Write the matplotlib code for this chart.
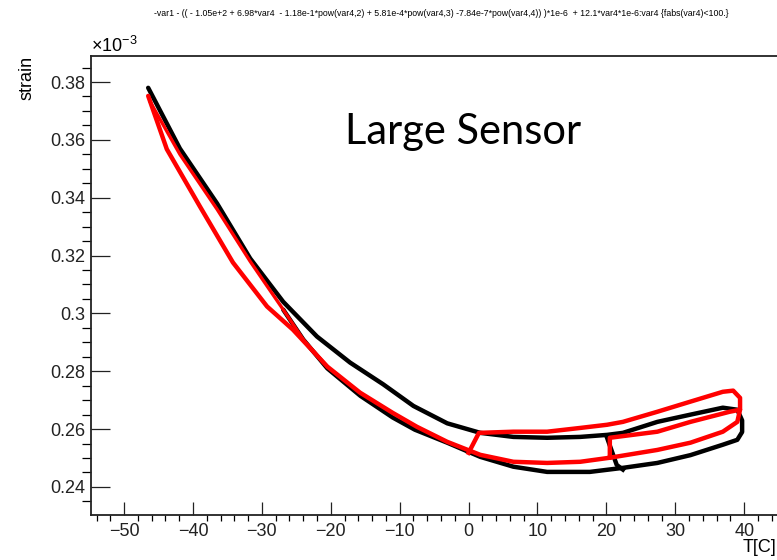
import matplotlib
matplotlib.use("Agg")
import matplotlib.pyplot as plt
from matplotlib.ticker import MultipleLocator, FuncFormatter

# strain values are in units of 1e-3 (as shown on the axis)
# black: one long hysteresis loop (upper branch out to 40C and back on the lower branch)
black_T = [-46.5, -41.9, -36.5, -31.7, -26.9, -22.0, -17.2, -12.4, -8.0, -3.1, 1.7, 6.5,
           11.4, 16.2, 20.1, 22.4, 27.4, 32.2, 36.9, 39.0, 39.7, 39.7, 39.0, 36.9, 32.2,
           27.4, 22.4, 17.6, 11.4, 6.5, 1.7, -3.1, -7.8, -11.0, -15.7, -20.5, -24.0, -26.9]
black_strain = [0.378, 0.357, 0.338, 0.319, 0.304, 0.292, 0.283, 0.2755, 0.268, 0.262,
                0.2587, 0.2573, 0.257, 0.2573, 0.258, 0.2587, 0.2625, 0.265, 0.2674, 0.2667,
                0.263, 0.259, 0.2563, 0.2546, 0.251, 0.2483, 0.2466, 0.2452, 0.2452, 0.247,
                0.2504, 0.2553, 0.2598, 0.2640, 0.2715, 0.2810, 0.2910, 0.3013]
# black step near 20C
black_step_T = [20.1, 21.5, 22.4]
black_step_strain = [0.257, 0.2476, 0.246]

# red: outer branch from -47C down to the flat part, out to 40C and back to the 20C step
red_T = [-46.5, -43.8, -39.0, -34.2, -29.25, -25.5, -20.5, -15.75, -11.0, -7.5, -3.1, 1.7,
         6.5, 11.4, 16.2, 20.5, 27.4, 32.2, 36.9, 39.0, 39.4, 37.9, 32.2, 27.4, 20.5, 20.5]
red_strain = [0.3752, 0.3568, 0.337, 0.3176, 0.3024, 0.2944, 0.2816, 0.2726, 0.2656, 0.2608,
              0.2556, 0.2511, 0.2487, 0.2483, 0.2487, 0.2501, 0.2528, 0.2553, 0.2591, 0.2625,
              0.2667, 0.266, 0.2625, 0.2591, 0.257, 0.2501]
# red inner branch on the steep part (runs along the black one)
red_inner_T = [-46.2, -41.9, -36.5, -31.7, -26.9, -24.0, -20.5]
red_inner_strain = [0.3731, 0.355, 0.336, 0.318, 0.3013, 0.291, 0.2816]
# red upper branch in the flat part, up to the 40C turn
red_top_T = [0.0, 1.5, 6.5, 11.4, 16.2, 20.1, 22.4, 27.4, 32.2, 36.9, 38.4, 39.4, 39.4]
red_top_strain = [0.2518, 0.2587, 0.2591, 0.2591, 0.2604, 0.2615, 0.2625, 0.266, 0.2695,
                  0.2729, 0.2733, 0.2708, 0.2674]

title = ("-var1 - (( - 1.05e+2 + 6.98*var4  - 1.18e-1*pow(var4,2) + 5.81e-4*pow(var4,3) "
         "-7.84e-7*pow(var4,4)) )*1e-6  + 12.1*var4*1e-6:var4 {fabs(var4)<100.}")

plt.rcParams['font.family'] = ['Liberation Sans', 'DejaVu Sans']
plt.rcParams['mathtext.default'] = 'regular'

fig = plt.figure(figsize=(7.77, 5.6), dpi=100)
ax = fig.add_axes([91 / 777, 45 / 560, 709 / 777, 459 / 560])

lw = 3.2
ax.plot(black_T, black_strain, color='black', lw=lw, solid_capstyle='round')
ax.plot(black_step_T, black_step_strain, color='black', lw=lw)
ax.plot(red_T, red_strain, color='red', lw=lw, solid_capstyle='round')
ax.plot(red_inner_T, red_inner_strain, color='red', lw=2.4)
ax.plot(red_top_T, red_top_strain, color='red', lw=lw)

ax.set_xlim(-54.8, 48.1)
ax.set_ylim(0.2303, 0.389)

ax.xaxis.set_major_locator(MultipleLocator(10))
ax.xaxis.set_minor_locator(MultipleLocator(2))
ax.yaxis.set_major_locator(MultipleLocator(0.02))
ax.yaxis.set_minor_locator(MultipleLocator(0.005))
ax.yaxis.set_major_formatter(FuncFormatter(lambda v, _: f'{round(v, 3):g}'))

ax.tick_params(axis='both', direction='in', labelsize=13, width=0.9, colors='#222222')
ax.tick_params(axis='x', which='major', length=9.5, pad=6)
ax.tick_params(axis='x', which='minor', length=4.5, width=0.9)
ax.tick_params(axis='y', which='major', length=13.5, pad=4)
ax.tick_params(axis='y', which='minor', length=6.5, width=0.9)
ax.tick_params(top=False, right=False)
for sp in ax.spines.values():
    sp.set_linewidth(1.3)
    sp.set_color('#222222')

fig.text(441 / 777, 1 - 14 / 560, title, fontsize=6.3, ha='center', va='center')
fig.text(91 / 777, 1 - 52 / 560, '×10$^{-3}$', fontsize=13, ha='left', va='baseline')
fig.text(27 / 777, 1 - 78 / 560, 'strain', fontsize=13, rotation=90, ha='center', va='center')
fig.text(776 / 777, 1 - 548 / 560, 'T[C]', fontsize=13, ha='right', va='center')
ax.text(-17.9, 0.3585, 'Large Sensor', fontsize=30, family=['Lato', 'DejaVu Sans'],
        ha='left', va='baseline')

fig.savefig('out.png', dpi=100)
